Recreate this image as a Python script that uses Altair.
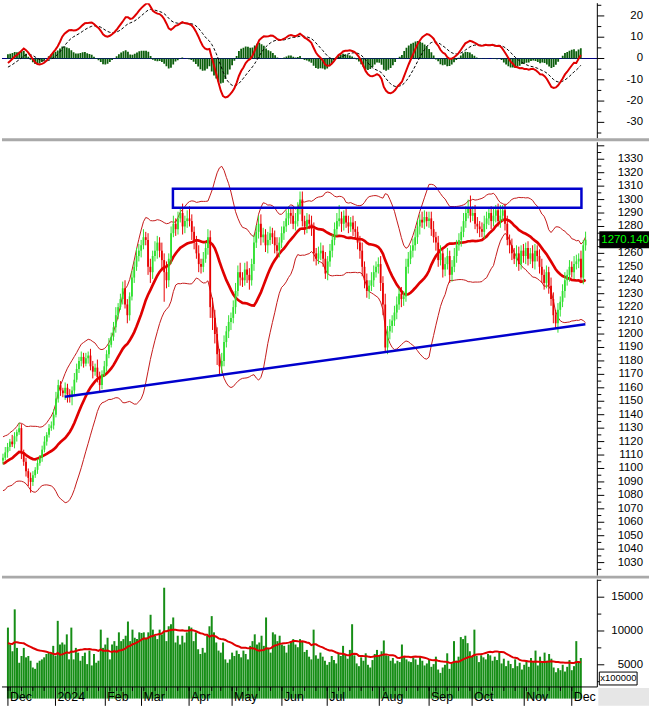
import altair as alt
import pandas as pd

FONT = "Liberation Sans"

# ---------------- data ----------------
# warm-up closes (Sep-Nov 2023), only used so the indicators exist on the first drawn day
warmup_close = [1242, 1240, 1237, 1229, 1232, 1239, 1226, 1230, 1236, 1241, 1245, 1230, 1222, 1215, 1190, 1164, 1170, 1165, 1154,
                1153, 1130, 1110, 1127, 1154, 1134, 1139, 1150, 1158, 1154, 1150, 1148, 1130, 1118, 1106, 1096, 1092, 1090, 1063, 1058, 1040, 1028,
                1054, 1066, 1077, 1096, 1088, 1098, 1100, 1092, 1096, 1102, 1116, 1120, 1124, 1116, 1112, 1110, 1102, 1094, 1090, 1096, 1104, 1106]
warmup_volume = [9500, 8800, 8200, 9800, 7600, 8400, 7200, 6900, 7400, 8100, 10200, 9600, 8800, 7900, 7400, 8300, 7100, 6800, 7500, 7900, 8600, 8200]

close = [
    1108, 1112, 1116, 1120, 1118, 1124, 1127, 1130, 1112, 1105, 1098, 1093, 1090, 1095, 1099, 1104, 1108, 1114, 1120, 1125, 1130,
    1132, 1140, 1152, 1162, 1158, 1156, 1160, 1155, 1153, 1158, 1166, 1174, 1180, 1183, 1178, 1182, 1184, 1176, 1172, 1175, 1168, 1162,
    1170, 1176, 1185, 1192, 1198, 1205, 1214, 1220, 1226, 1234, 1222, 1214, 1228, 1242, 1250, 1258,
    1262, 1266, 1272, 1270, 1250, 1246, 1258, 1262, 1268, 1262, 1255, 1246, 1240, 1256, 1275, 1282, 1278, 1286, 1290, 1280, 1284,
    1286, 1284, 1276, 1268, 1260, 1252, 1250, 1256, 1264, 1272, 1220, 1212, 1200, 1185, 1176, 1180, 1194, 1202, 1209,
    1212, 1220, 1232, 1246, 1242, 1240, 1248, 1244, 1240, 1252, 1268, 1276, 1282, 1272, 1274, 1266, 1270, 1275, 1272, 1266, 1262, 1268,
    1275, 1280, 1286, 1290, 1288, 1282, 1284, 1294, 1300, 1284, 1280, 1285, 1282, 1278, 1260, 1256, 1260, 1262, 1256, 1245,
    1254, 1262, 1270, 1278, 1284, 1286, 1282, 1288, 1283, 1280, 1283, 1278, 1276, 1268, 1262, 1250, 1240, 1232, 1236, 1240, 1246, 1250, 1252,
    1238, 1222, 1190, 1202, 1206, 1210, 1216, 1222, 1230, 1226, 1228, 1250, 1256, 1262, 1266, 1272, 1280, 1285, 1283, 1287, 1284, 1286,
    1278, 1272, 1268, 1255, 1260, 1248, 1252, 1258, 1244, 1250, 1258, 1266, 1270, 1276, 1284, 1290, 1294, 1288, 1290,
    1282, 1280, 1278, 1276, 1282, 1286, 1290, 1284, 1288, 1292, 1284, 1288, 1292, 1282, 1270, 1266, 1260, 1256, 1260, 1252, 1262, 1258, 1264,
    1256, 1260, 1254, 1262, 1258, 1250, 1244, 1238, 1246, 1236, 1226, 1214, 1208, 1218, 1224, 1232, 1240, 1244, 1250, 1246, 1252,
    1254, 1256, 1242, 1266, 1270.14]

upper_wick = [
    3, 4, 3, 2, 5, 3, 2, 4, 3, 2, 3, 2, 4, 3, 2, 3, 2, 3, 4, 2, 3,
    3, 4, 5, 4, 3, 2, 4, 3, 4, 3, 5, 4, 3, 4, 3, 4, 3, 5, 4, 3, 6, 4,
    3, 4, 3, 5, 3, 4, 6, 3, 4, 5, 6, 4, 3, 5, 4, 6,
    5, 4, 6, 4, 5, 6, 4, 7, 5, 4, 6, 5, 8, 4, 5, 6, 4, 5, 4, 7, 4,
    6, 9, 5, 4, 5, 6, 4, 5, 4, 6, 5, 7, 6, 5, 4, 6, 5, 4, 5,
    4, 5, 6, 5, 7, 4, 5, 6, 5, 4, 6, 5, 6, 7, 5, 4, 6, 5, 4, 5, 6, 4,
    5, 4, 6, 5, 4, 5, 6, 4, 6, 6, 4, 5, 4, 6, 5, 4, 5, 6, 4, 5,
    4, 5, 4, 5, 6, 10, 5, 4, 6, 5, 4, 5, 6, 4, 5, 6, 4, 5, 4, 6, 5, 4, 5,
    6, 5, 8, 4, 5, 4, 5, 6, 4, 5, 4, 6, 5, 4, 5, 6, 5, 4, 6, 5, 4, 5,
    5, 6, 4, 5, 6, 4, 5, 6, 4, 5, 6, 4, 5, 4, 6, 5, 6, 9, 5,
    6, 5, 4, 5, 6, 5, 4, 5, 6, 4, 5, 8, 4, 5, 6, 4, 5, 4, 6, 5, 4, 5, 4,
    5, 4, 6, 5, 4, 5, 6, 4, 5, 4, 6, 5, 4, 5, 4, 5, 6, 4, 5, 4, 6,
    5, 4, 6, 4, 6]

lower_wick = [
    3, 2, 4, 3, 2, 3, 4, 2, 5, 3, 4, 6, 8, 3, 2, 3, 2, 3, 2, 3, 2,
    2, 3, 2, 3, 4, 3, 5, 6, 4, 6, 3, 2, 3, 4, 3, 2, 4, 3, 5, 3, 4, 5,
    3, 2, 4, 3, 2, 3, 4, 3, 2, 4, 3, 6, 4, 3, 4, 3,
    4, 5, 3, 4, 6, 8, 5, 4, 6, 5, 8, 22, 6, 5, 4, 3, 5, 4, 3, 6, 5,
    5, 4, 6, 5, 4, 6, 5, 4, 3, 5, 8, 9, 7, 8, 7, 5, 4, 4, 5,
    6, 4, 5, 4, 6, 5, 4, 6, 7, 4, 5, 4, 5, 6, 4, 5, 6, 4, 5, 6, 4, 5,
    4, 5, 4, 5, 6, 4, 5, 4, 5, 4, 6, 5, 4, 5, 6, 5, 4, 5, 6, 4,
    5, 4, 5, 4, 5, 4, 6, 5, 4, 5, 4, 5, 6, 5, 6, 7, 6, 5, 6, 4, 5, 4, 5,
    6, 8, 3, 5, 6, 5, 4, 5, 4, 6, 5, 4, 5, 4, 5, 4, 5, 6, 4, 5, 4, 5,
    5, 4, 6, 5, 4, 6, 5, 4, 6, 5, 4, 5, 4, 5, 4, 5, 4, 5, 4,
    4, 5, 6, 4, 5, 4, 5, 6, 4, 5, 4, 5, 4, 5, 4, 6, 5, 4, 6, 5, 4, 5, 6,
    5, 4, 5, 6, 4, 5, 6, 5, 4, 6, 5, 6, 4, 7, 5, 4, 5, 4, 5, 4, 5,
    4, 5, 4, 5, 4]

volume = [
    10500, 8000, 7000, 13200, 7500, 5300, 6300, 7500, 6100, 6300, 5600, 4600, 4400, 5300, 5600, 5800, 6100, 6600, 6800, 6600,
    7800, 6300, 11500, 8000, 8300, 8000, 9500, 5800, 10500, 5800, 7500, 6800, 5600, 6300, 6800, 5100, 7100, 4900, 6600, 5300,
    5600, 10200, 7500, 8000, 9000, 5800, 8000, 8500, 7800, 9800, 8500, 8800, 9300, 11400, 8500, 10200, 9000, 8800, 9800, 9700,
    9800, 9000, 9800, 12400, 10200, 9300, 8800, 10200, 9500, 16400, 8500, 10700, 11000, 12000, 8300, 9300, 8000, 9300, 8300, 9800,
    10700, 10500, 8500, 9800, 7300, 6600, 7500, 6800, 9300, 10700, 12200, 9800, 8300, 7100, 6800, 8300, 5800, 5300, 5800, 6800,
    6300, 7100, 6600, 6100, 7100, 6600, 5800, 7800, 8500, 9500, 8000, 8300, 9300, 7800, 12000, 7500, 6800, 9800, 9500, 8500,
    9300, 8000, 7800, 6800, 8000, 8500, 8800, 8000,
    7600, 8800, 8400, 6900, 7200, 6200, 5800, 10200, 6400, 5900, 6800, 6200, 5600, 5000, 5400, 6300, 5700, 5200, 6600,
    6300, 7800, 6600, 5900, 7200, 11000, 6400, 5200, 4800, 6100, 5600, 6700, 5000, 4600,
    5700, 6600, 7200, 6400, 7000, 8600, 6400, 6300, 5600, 6000, 5200, 5600, 5400, 8000, 6200, 5800, 5500, 5400, 6100, 5800,
    5000, 6300, 5600, 4900, 5200, 5800, 4700, 5100, 6200, 4300, 3800, 4600, 5000, 6700, 4400, 5200, 8500, 5600, 6200, 9100,
    8800, 9300, 8200, 7000, 6200, 10200, 6300, 5400, 6400, 6100, 5800, 6600, 6400, 5600, 6200, 5700, 6800, 5200, 5900, 4800,
    5600, 5100, 4500, 5800, 4800, 5300, 4300, 5000, 5600, 4700, 6000, 5400, 7100, 4900, 6200, 5500, 6800, 5600, 6600, 5900,
    4600, 3900, 4500, 4200, 5000, 4000, 4700, 5700, 4200, 4800, 8500, 5500, 6000]

holidays = ["2024-01-01", "2024-02-08", "2024-02-09", "2024-02-12", "2024-02-13", "2024-02-14",
            "2024-04-18", "2024-04-29", "2024-04-30", "2024-05-01", "2024-09-02", "2024-09-03"]

# channel (drawn lines)
box_i = [73.8, 251.2]
box_p = [1294, 1308]
support_i = [26.8, 252.9]
support_p = [1153.4, 1207.3]

macd_ticks = [-30, -20, -10, 0, 10, 20]
macd_minor = [-35, -25, -15, -5, 5, 15, 25]
price_ticks = list(range(1030, 1331, 10))
price_labels = [v for v in price_ticks if v != 1270]   # 1270 sits under the last-price box
price_minor = list(range(1025, 1341, 10))
vol_ticks = [5000, 10000, 15000]
vol_minor = [2500, 7500, 12500, 17500]

# ---------------- derived table ----------------
days = pd.bdate_range("2023-12-01", "2024-12-06")
days = days[~days.isin(pd.to_datetime(holidays))]
n = len(close)
assert len(days) == n == len(volume) == len(upper_wick) == len(lower_wick)

k = len(warmup_close)
fc = pd.Series(warmup_close + close, dtype=float)
ema12 = fc.ewm(span=12, adjust=False).mean()
ema26 = fc.ewm(span=26, adjust=False).mean()
macd = ema12 - ema26
signal = macd.ewm(span=9, adjust=False).mean()
mid = fc.rolling(20).mean()
sd = fc.rolling(20).std(ddof=0)
fv = pd.Series(warmup_volume + volume, dtype=float)
vma = fv.rolling(20).mean()
kv = len(warmup_volume)

opens = [warmup_close[-1]] + close[:-1]
df = pd.DataFrame({"i": list(range(n)), "open": opens, "close": close, "vol": volume})
df["high"] = [max(o, c) + u for o, c, u in zip(opens, close, upper_wick)]
df["low"] = [min(o, c) - l for o, c, l in zip(opens, close, lower_wick)]
df["dir"] = ["up" if c >= o else "down" for o, c in zip(opens, close)]
df["macd"] = macd.values[k:]
df["signal"] = signal.values[k:]
df["hist"] = df["macd"] - df["signal"]
df["mid"] = mid.values[k:]
df["upper"] = (mid + 2 * sd).values[k:]
df["lower"] = (mid - 2 * sd).values[k:]
df["vma"] = vma.values[kv:]
df["zero"] = 0.0

month_rows, week_rows = [], []
for j, d in enumerate(days):
    if j == 0 or d.month != days[j - 1].month:
        month_rows.append({"i": j, "lab": "2024" if (d.month == 1) else d.strftime("%b")})
    if j == 0 or d.isocalendar()[1] != days[j - 1].isocalendar()[1]:
        week_rows.append({"i": j})
months = pd.DataFrame(month_rows)
weeks = pd.DataFrame(week_rows)

# ---------------- chart ----------------
W = 599
H1, H2, H3 = 136, 436, 108
xs = alt.Scale(domain=[-0.43, 258.1], nice=False, zero=False)
X = alt.X("i:Q", scale=xs, axis=None)
one = pd.DataFrame({"a": [0]})


def right_axis(H, majors, minors, scale, label_vals):
    dom = alt.Chart(one).mark_rule(color="black").encode(
        x=alt.value(W), y=alt.value(0), y2=alt.value(H))
    maj = alt.Chart(pd.DataFrame({"v": majors})).mark_rule(color="black").encode(
        x=alt.value(W), x2=alt.value(W + 7), y=alt.Y("v:Q", scale=scale, axis=None))
    mnr = alt.Chart(pd.DataFrame({"v": minors})).mark_rule(color="black").encode(
        x=alt.value(W), x2=alt.value(W + 4), y=alt.Y("v:Q", scale=scale, axis=None))
    labs = alt.Chart(pd.DataFrame({"v": label_vals, "t": [str(v) for v in label_vals]})).mark_text(
        align="right", baseline="middle", fontSize=11.5, font=FONT, color="black").encode(
        x=alt.value(645), y=alt.Y("v:Q", scale=scale, axis=None), text="t:N")
    return [dom, maj, mnr, labs]


def separator(h):
    return alt.Chart(one).mark_rule(color="#a9a9a9", strokeWidth=3).encode(
        x=alt.value(0), x2=alt.value(651), y=alt.value(h + 1.5))


base = alt.Chart(df)

# MACD panel
ysm = alt.Scale(domain=[-37.5, 26], nice=False, zero=False)
zero = alt.Chart(pd.DataFrame({"z": [0.0]})).mark_rule(color="#000080", strokeWidth=1).encode(
    x=alt.value(0), x2=alt.value(W), y=alt.Y("z:Q", scale=ysm, axis=None))
hist = base.mark_bar(size=1.8, color="#0b5e0b", clip=True).encode(
    x=X, y=alt.Y("hist:Q", scale=ysm, axis=None), y2="zero:Q")
sig = base.mark_line(color="black", strokeWidth=1, strokeDash=[3, 2], clip=True).encode(
    x=X, y=alt.Y("signal:Q", scale=ysm, axis=None))
mline = base.mark_line(color="#e00000", strokeWidth=2, clip=True).encode(
    x=X, y=alt.Y("macd:Q", scale=ysm, axis=None))
p1 = alt.layer(zero, hist, sig, mline, *right_axis(H1, macd_ticks, macd_minor, ysm, macd_ticks),
               separator(H1)).properties(width=W, height=H1)

# price panel
ysp = alt.Scale(domain=[1020.3, 1342.6], nice=False, zero=False)
col = alt.Color("dir:N", scale=alt.Scale(domain=["up", "down"], range=["#2fe02f", "#e80000"]), legend=None)
band_u = base.mark_line(color="#c41a1a", strokeWidth=1, clip=True).encode(x=X, y=alt.Y("upper:Q", scale=ysp, axis=None))
band_l = base.mark_line(color="#c41a1a", strokeWidth=1, clip=True).encode(x=X, y=alt.Y("lower:Q", scale=ysp, axis=None))
ma = base.mark_line(color="#e00000", strokeWidth=2.7, clip=True).encode(x=X, y=alt.Y("mid:Q", scale=ysp, axis=None))
wick = base.mark_rule(strokeWidth=1).encode(x=X, y=alt.Y("low:Q", scale=ysp, axis=None), y2="high:Q", color=col)
body = base.mark_rule(strokeWidth=1.8).encode(x=X, y=alt.Y("open:Q", scale=ysp, axis=None), y2="close:Q", color=col)
box = alt.Chart(pd.DataFrame({"x1": [box_i[0]], "x2": [box_i[1]], "p1": [box_p[0]], "p2": [box_p[1]]})).mark_rect(
    fill="white", fillOpacity=0, stroke="#0000cd", strokeWidth=2.5).encode(
    x=alt.X("x1:Q", scale=xs, axis=None), x2="x2:Q", y=alt.Y("p1:Q", scale=ysp, axis=None), y2="p2:Q")
support = alt.Chart(pd.DataFrame({"i": support_i, "p": support_p})).mark_line(color="#0000cd", strokeWidth=2.5).encode(
    x=alt.X("i:Q", scale=xs, axis=None), y=alt.Y("p:Q", scale=ysp, axis=None))
last = pd.DataFrame({"p": [close[-1]], "hi": [close[-1] + 6.3], "lo": [close[-1] - 6.3], "lab": [f"{close[-1]:.3f}"]})
lab_box = alt.Chart(last).mark_rect(color="black").encode(
    x=alt.value(601), x2=alt.value(651), y=alt.Y("hi:Q", scale=ysp, axis=None), y2="lo:Q")
lab_txt = alt.Chart(last).mark_text(align="left", baseline="middle", color="#00ff00", fontSize=11.5, font=FONT).encode(
    x=alt.value(603), y=alt.Y("p:Q", scale=ysp, axis=None), text="lab:N")
p2 = alt.layer(band_u, band_l, ma, wick, body, box, support,
               *right_axis(H2, price_ticks + [1340], price_minor, ysp, price_labels),
               lab_box, lab_txt, separator(H2)).properties(width=W, height=H2)

# volume panel
ysv = alt.Scale(domain=[1720, 17600], nice=False, zero=False)
vbars = base.mark_bar(size=2.0, color="#168e16").encode(
    x=X, y=alt.Y("vol:Q", scale=ysv, axis=None), y2=alt.value(H3))
vline = base.mark_line(color="#e00000", strokeWidth=2).encode(x=X, y=alt.Y("vma:Q", scale=ysv, axis=None))
xline = alt.Chart(one).mark_rule(color="black").encode(x=alt.value(0), x2=alt.value(W), y=alt.value(H3))
mt = alt.Chart(months).mark_rule(color="black").encode(
    x=alt.X("i:Q", scale=xs, axis=None), y=alt.value(H3), y2=alt.value(H3 + 19))
wt = alt.Chart(weeks).mark_rule(color="black").encode(
    x=alt.X("i:Q", scale=xs, axis=None), y=alt.value(H3), y2=alt.value(H3 + 4))
ml = alt.Chart(months).mark_text(align="left", baseline="middle", dx=2, fontSize=12.5, font=FONT, color="black").encode(
    x=alt.X("i:Q", scale=xs, axis=None), y=alt.value(H3 + 10.5), text="lab:N")
gray = alt.Chart(one).mark_rect(color="#e6e6e6").encode(
    x=alt.value(600), x2=alt.value(651), y=alt.value(H3 + 1), y2=alt.value(H3 + 19))
unit_box = alt.Chart(one).mark_rect(fill="white", stroke="black", strokeWidth=1).encode(
    x=alt.value(601), x2=alt.value(639), y=alt.value(93), y2=alt.value(106))
unit_txt = alt.Chart(pd.DataFrame({"t": ["x100000"]})).mark_text(
    align="left", baseline="middle", fontSize=9.5, font=FONT, color="black").encode(
    x=alt.value(602), y=alt.value(99.5), text="t:N")
p3 = alt.layer(vbars, vline, *right_axis(H3, vol_ticks, vol_minor, ysv, vol_ticks),
               xline, gray, mt, wt, ml, unit_box, unit_txt).properties(width=W, height=H3)

chart = alt.vconcat(p1, p2, p3, spacing=4, bounds="flush").properties(padding=0).configure_view(stroke=None)

chart.save("out.html", embed_options={"renderer": "svg", "actions": False})
